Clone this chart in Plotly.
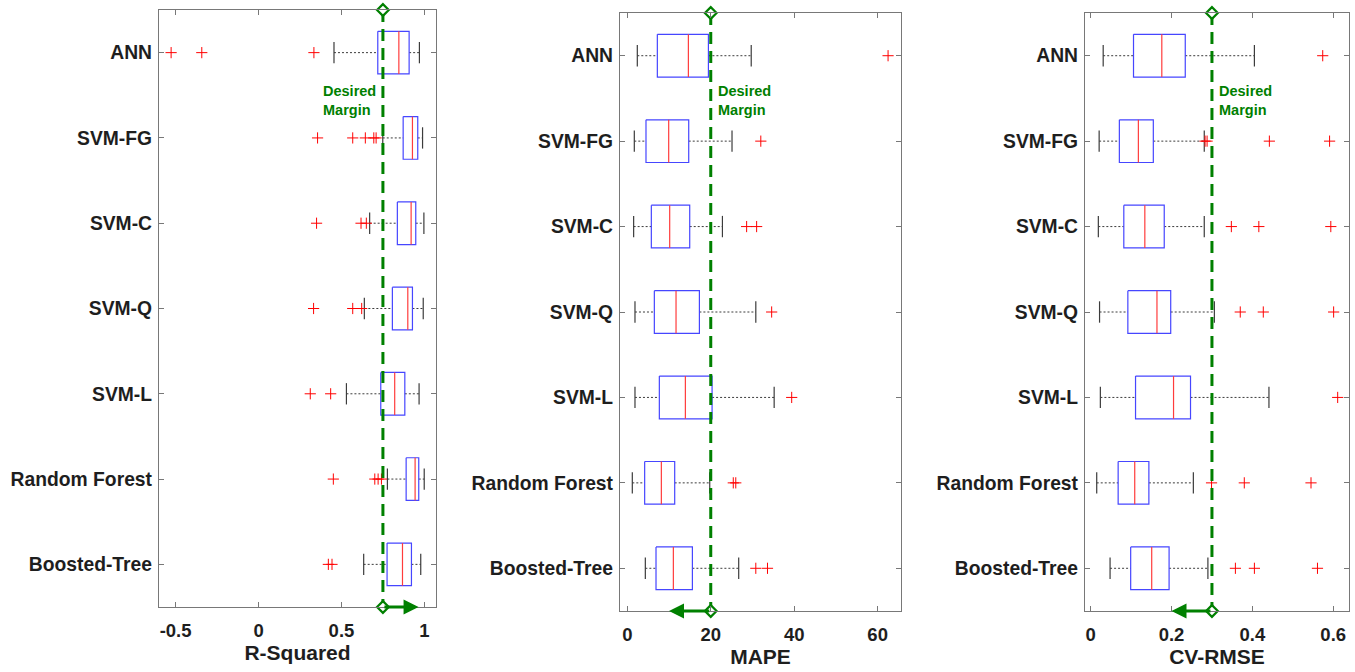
import plotly.graph_objects as go

categories = ["ANN", "SVM-FG", "SVM-C", "SVM-Q", "SVM-L", "Random Forest", "Boosted-Tree"]

# R-Squared
r2_lw = [0.455, 0.749, 0.670, 0.638, 0.530, 0.777, 0.634]
r2_q1 = [0.719, 0.872, 0.837, 0.807, 0.737, 0.890, 0.775]
r2_med = [0.846, 0.928, 0.920, 0.900, 0.821, 0.944, 0.868]
r2_q3 = [0.908, 0.960, 0.948, 0.928, 0.882, 0.966, 0.922]
r2_uw = [0.970, 0.989, 0.997, 0.993, 0.968, 0.999, 0.978]
r2_out = [[-0.527, -0.342, 0.334], [0.356, 0.568, 0.644, 0.695, 0.709],
          [0.350, 0.618, 0.650], [0.332, 0.568, 0.622], [0.312, 0.435],
          [0.451, 0.701, 0.721, 0.741], [0.421, 0.443]]

# MAPE
mape_lw = [2.4, 1.68, 1.52, 1.84, 1.84, 1.2, 4.32]
mape_q1 = [7.2, 4.48, 5.76, 6.48, 7.68, 4.16, 6.88]
mape_med = [14.64, 9.92, 10.16, 11.68, 13.92, 8.16, 11.04]
mape_q3 = [19.44, 14.72, 14.96, 17.28, 20.32, 11.36, 15.6]
mape_uw = [29.7, 25.1, 22.8, 30.8, 35.2, 19.76, 26.7]
mape_out = [[62.5], [32.0], [28.6, 31.0], [34.6], [39.4], [25.4, 26.0], [30.8, 33.6]]

# CV-RMSE
cv_lw = [0.031, 0.021, 0.019, 0.022, 0.024, 0.015, 0.048]
cv_q1 = [0.106, 0.071, 0.082, 0.092, 0.111, 0.068, 0.099]
cv_med = [0.176, 0.118, 0.134, 0.164, 0.205, 0.109, 0.151]
cv_q3 = [0.234, 0.155, 0.182, 0.198, 0.247, 0.144, 0.194]
cv_uw = [0.405, 0.281, 0.281, 0.306, 0.441, 0.254, 0.290]
cv_out = [[0.574], [0.283, 0.288, 0.442, 0.591], [0.348, 0.416, 0.594],
          [0.370, 0.427, 0.601], [0.611], [0.299, 0.380, 0.545], [0.358, 0.405, 0.561]]

metric_titles = ["R-Squared", "MAPE", "CV-RMSE"]
desired_margin = [0.75, 20, 0.3]
arrow_target = [0.965, 10, 0.2]

x_ranges = [[-0.6, 1.07], [-1.75, 65.6], [-0.014, 0.639]]
x_ticks = [[-0.5, 0, 0.5, 1], [0, 20, 40, 60], [0, 0.2, 0.4, 0.6]]
x_ticktext = [["-0.5", "0", "0.5", "1"], ["0", "20", "40", "60"], ["0", "0.2", "0.4", "0.6"]]

W, H = 1355, 672
x_dom_px = [(159, 436), (620, 901), (1085, 1349)]
y_dom_px = [(10, 607), (13, 611), (13, 611)]

FONT = "Liberation Sans, Arial, sans-serif"
GREEN = "rgb(0,128,0)"
BOX_C = "rgb(70,70,255)"
MED_C = "rgb(255,60,60)"
WHISK_C = "rgb(60,60,60)"
AX_C = "rgb(120,120,120)"
TXT_C = "rgb(30,30,30)"

data = [
    (r2_lw, r2_q1, r2_med, r2_q3, r2_uw, r2_out),
    (mape_lw, mape_q1, mape_med, mape_q3, mape_uw, mape_out),
    (cv_lw, cv_q1, cv_med, cv_q3, cv_uw, cv_out),
]

fig = go.Figure()
hw = 0.25   # half box width (category units)
cw = 0.125  # half cap width

for p, (lw, q1, med, q3, uw, outs) in enumerate(data):
    xa = "x" if p == 0 else f"x{p+1}"
    ya = "y" if p == 0 else f"y{p+1}"
    bx, by, mx, my, wx, wy, cx, cy, ox, oy = [], [], [], [], [], [], [], [], [], []
    for i in range(len(categories)):
        pos = i + 1
        bx += [q1[i], q3[i], q3[i], q1[i], q1[i], None]
        by += [pos - hw, pos - hw, pos + hw, pos + hw, pos - hw, None]
        mx += [med[i], med[i], None]
        my += [pos - hw, pos + hw, None]
        wx += [lw[i], q1[i], None, q3[i], uw[i], None]
        wy += [pos, pos, None, pos, pos, None]
        cx += [lw[i], lw[i], None, uw[i], uw[i], None]
        cy += [pos - cw, pos + cw, None, pos - cw, pos + cw, None]
        for o in outs[i]:
            ox.append(o)
            oy.append(pos)
    fig.add_trace(go.Scatter(x=wx, y=wy, mode="lines", xaxis=xa, yaxis=ya,
                             line=dict(color=WHISK_C, width=1, dash="2px,2px"),
                             showlegend=False, hoverinfo="skip"))
    fig.add_trace(go.Scatter(x=cx, y=cy, mode="lines", xaxis=xa, yaxis=ya,
                             line=dict(color=WHISK_C, width=1.2),
                             showlegend=False, hoverinfo="skip"))
    fig.add_trace(go.Scatter(x=bx, y=by, mode="lines", xaxis=xa, yaxis=ya,
                             line=dict(color=BOX_C, width=1.2),
                             showlegend=False, hoverinfo="skip"))
    fig.add_trace(go.Scatter(x=mx, y=my, mode="lines", xaxis=xa, yaxis=ya,
                             line=dict(color=MED_C, width=1.2),
                             showlegend=False, hoverinfo="skip"))
    fig.add_trace(go.Scatter(x=ox, y=oy, mode="markers", xaxis=xa, yaxis=ya,
                             marker=dict(symbol="cross-thin", size=8,
                                         line=dict(color="red", width=1)),
                             showlegend=False, hoverinfo="skip"))
    # desired margin line
    m = desired_margin[p]
    fig.add_trace(go.Scatter(x=[m, m], y=[0.5, len(categories) + 0.5], mode="lines",
                             xaxis=xa, yaxis=ya,
                             line=dict(color=GREEN, width=3, dash="12px,7px"),
                             showlegend=False, hoverinfo="skip", cliponaxis=False))
    fig.add_annotation(x=arrow_target[p], y=len(categories) + 0.5, ax=m,
                       ay=len(categories) + 0.5, xref=xa, yref=ya,
                       axref=xa, ayref=ya, text="", showarrow=True,
                       arrowhead=2, arrowsize=1, arrowwidth=3, arrowcolor=GREEN,
                       standoff=0, startstandoff=0)
    fig.add_trace(go.Scatter(x=[m, m], y=[0.5, len(categories) + 0.5], mode="markers",
                             xaxis=xa, yaxis=ya,
                             marker=dict(symbol="diamond", size=9, color="white",
                                         line=dict(color=GREEN, width=2.2)),
                             showlegend=False, hoverinfo="skip", cliponaxis=False))
    # label
    if p == 0:
        fig.add_annotation(x=m, y=1.56, xref=xa, yref=ya, text="Desired<br>Margin",
                           showarrow=False, xanchor="right", align="left", xshift=-5,
                           font=dict(family=FONT, size=14.5, color=GREEN, weight="bold"))
    else:
        fig.add_annotation(x=m, y=1.52, xref=xa, yref=ya, text="Desired<br>Margin",
                           showarrow=False, xanchor="left", align="left", xshift=5,
                           font=dict(family=FONT, size=14.5, color=GREEN, weight="bold"))

    xd = x_dom_px[p]
    yd = y_dom_px[p]
    xkey = "xaxis" if p == 0 else f"xaxis{p+1}"
    ykey = "yaxis" if p == 0 else f"yaxis{p+1}"
    fig.update_layout(**{
        xkey: dict(domain=[xd[0] / W, xd[1] / W], range=x_ranges[p], anchor=ya,
                   tickvals=x_ticks[p], ticktext=x_ticktext[p],
                   showline=True, mirror="allticks", linecolor=AX_C, linewidth=1.2,
                   ticks="inside", ticklen=5, tickcolor=AX_C, showgrid=False,
                   zeroline=False, ticklabelstandoff=7,
                   tickfont=dict(family=FONT, size=18.5, color=TXT_C, weight="bold"),
                   title=dict(text=metric_titles[p], standoff=3,
                              font=dict(family=FONT, size=21, color=TXT_C, weight="bold"))),
        ykey: dict(domain=[1 - yd[1] / H, 1 - yd[0] / H], range=[len(categories) + 0.5, 0.5],
                   anchor=xa, tickvals=list(range(1, len(categories) + 1)),
                   ticktext=categories,
                   showline=True, mirror="allticks", linecolor=AX_C, linewidth=1.2,
                   ticks="inside", ticklen=5, tickcolor=AX_C, showgrid=False,
                   zeroline=False, ticklabelstandoff=2,
                   tickfont=dict(family=FONT, size=19.3, color=TXT_C, weight="bold")),
    })

fig.update_layout(width=W, height=H, margin=dict(l=0, r=0, t=0, b=0),
                  plot_bgcolor="white", paper_bgcolor="white", showlegend=False)

fig.write_html("out.html")
